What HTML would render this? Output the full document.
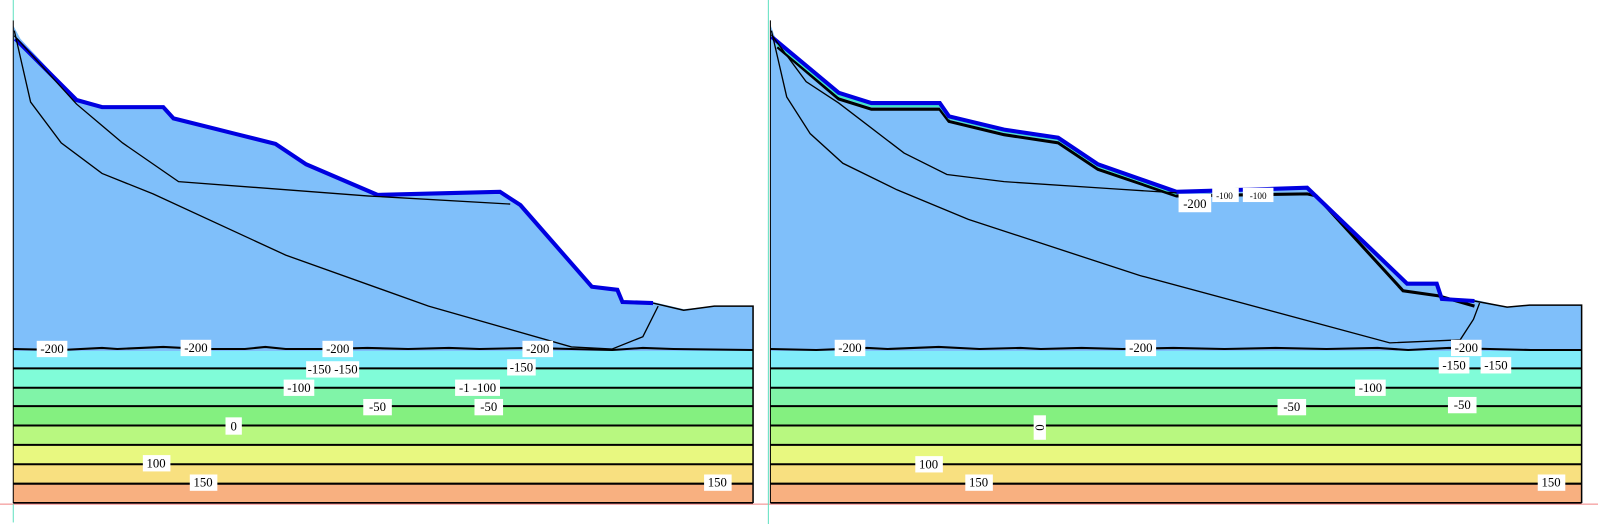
<!DOCTYPE html>
<html><head><meta charset="utf-8"><style>body{margin:0;background:#fff;overflow:hidden}svg{display:block}</style></head><body>
<svg width="1598" height="524" viewBox="0 0 1598 524" xmlns="http://www.w3.org/2000/svg" font-family="Liberation Serif, serif" font-size="12.5">
<g transform="scale(1.0204)">
<!-- LEFT PANEL -->
<g>
<rect x="13" y="342" width="725" height="19" fill="#80ecfa"/>
<rect x="13" y="361" width="725" height="19" fill="#80fcd8"/>
<rect x="13" y="380" width="725" height="18" fill="#80f4a8"/>
<rect x="13" y="398" width="725" height="19" fill="#84f080"/>
<rect x="13" y="417" width="725" height="19" fill="#b8f880"/>
<rect x="13" y="436" width="725" height="19" fill="#e8f880"/>
<rect x="13" y="455" width="725" height="19" fill="#f8e080"/>
<rect x="13" y="474" width="725" height="19" fill="#f8b080"/>
<polygon fill="#7fbffa" points="13,25 20,38 75,97 100,104 160,104 170,115 230,130 270,140 300,160 370,190 490,187 510,200 580,280 605,283 610,295 640,296 670,303 700,300 738,300 738,344 13,344"/>
<polyline fill="none" stroke="#0000e0" stroke-width="4" points="15,38 75,98 100,105 160,105 170,116 230,131 270,141 300,161 370,191 490,188 510,201 580,281 605,284 610,296 640,297"/>
<polyline fill="none" stroke="#000" stroke-width="1.5" points="640,297 670,304 700,300 738,300 738,493"/>
<polyline fill="none" stroke="#000" stroke-width="1.3" points="14,35 75,102 120,140 175,178 360,192 500,200"/>
<polyline fill="none" stroke="#000" stroke-width="1.3" points="14,30 30,100 60,140 100,170 150,190 280,250 420,300 560,340 600,342 630,330 645,300"/>
<polyline fill="none" stroke="#000" stroke-width="2" points="13,342 60,343 100,341 115,342 160,340 200,342 240,342 260,340 280,342 320,342 360,341 400,342 440,341 470,342 520,341 560,342 600,343 630,341 660,342 738,343"/>
<g stroke="#000" stroke-width="2"><line x1="13" y1="361" x2="738" y2="361"/><line x1="13" y1="380" x2="738" y2="380"/><line x1="13" y1="398" x2="738" y2="398"/><line x1="13" y1="417" x2="738" y2="417"/><line x1="13" y1="436" x2="738" y2="436"/><line x1="13" y1="455" x2="738" y2="455"/><line x1="13" y1="474" x2="738" y2="474"/><line x1="13" y1="493" x2="738" y2="493"/></g>
<line x1="13" y1="20" x2="13" y2="493" stroke="#000" stroke-width="1"/>
</g>
<!-- RIGHT PANEL -->
<g>
<rect x="755" y="342" width="795" height="19" fill="#80ecfa"/>
<rect x="755" y="361" width="795" height="19" fill="#80fcd8"/>
<rect x="755" y="380" width="795" height="18" fill="#80f4a8"/>
<rect x="755" y="398" width="795" height="19" fill="#84f080"/>
<rect x="755" y="417" width="795" height="19" fill="#b8f880"/>
<rect x="755" y="436" width="795" height="19" fill="#e8f880"/>
<rect x="755" y="455" width="795" height="19" fill="#f8e080"/>
<rect x="755" y="474" width="795" height="19" fill="#f8b080"/>
<polygon fill="#7fbffa" points="755,24 760,38 822,90 854,100 921,100 930,113 984,126 1037,134 1076,160 1153,188 1281,183 1379,277 1408,277 1413,292 1447,294 1477,301 1499,299 1550,299 1550,344 755,344"/>
<polyline fill="none" stroke="#000" stroke-width="3" points="762,46 822,97 854,107 921,107 930,119 984,132 1037,140 1076,166 1153,192 1281,190 1290,192 1375,285 1410,290 1445,300"/>
<polyline fill="none" stroke="#40e8c8" stroke-width="2" points="761,43 822,94 854,104 921,104 930,116 984,129 1037,137 1076,163 1153,190"/>
<polyline fill="none" stroke="#0000e0" stroke-width="4" points="756,36 822,91 854,101 921,101 930,114 984,127 1037,135 1076,161 1153,188 1281,184 1379,278 1408,278 1413,293 1445,295"/>
<polyline fill="none" stroke="#000" stroke-width="1.5" points="1445,295 1477,301 1499,299 1550,299 1550,493"/>
<polyline fill="none" stroke="#000" stroke-width="1.3" points="756,34 790,80 822,101 886,150 928,171 984,178 1090,185 1153,189"/>
<polyline fill="none" stroke="#000" stroke-width="1.3" points="756,30 771,95 794,131 826,160 879,186 949,215 1117,270 1362,336 1431,333 1444,313 1450,297"/>
<polyline fill="none" stroke="#000" stroke-width="2" points="755,342 800,343 850,341 870,342 920,340 960,342 1000,341 1020,342 1060,341 1100,342 1150,341 1200,342 1250,341 1300,342 1350,341 1380,343 1420,341 1460,342 1500,343 1550,343"/>
<g stroke="#000" stroke-width="2"><line x1="755" y1="361" x2="1550" y2="361"/><line x1="755" y1="380" x2="1550" y2="380"/><line x1="755" y1="398" x2="1550" y2="398"/><line x1="755" y1="417" x2="1550" y2="417"/><line x1="755" y1="436" x2="1550" y2="436"/><line x1="755" y1="455" x2="1550" y2="455"/><line x1="755" y1="474" x2="1550" y2="474"/><line x1="755" y1="493" x2="1550" y2="493"/></g>
<line x1="755" y1="20" x2="755" y2="493" stroke="#000" stroke-width="1"/>
</g>
<line x1="0" y1="494" x2="1598" y2="494" stroke="#f08080" stroke-width="1"/>
<line x1="13" y1="0" x2="13" y2="20" stroke="#60e0c0" stroke-width="1"/>
<line x1="753" y1="0" x2="753" y2="524" stroke="#60e0c0" stroke-width="1"/>
<line x1="13" y1="494" x2="13" y2="512" stroke="#60e0c0" stroke-width="1"/>
<!-- labels -->
<g fill="#fff">
<rect x="36" y="334" width="30" height="16"/><rect x="177" y="333" width="30" height="16"/><rect x="316" y="334" width="30" height="16"/><rect x="512" y="334" width="30" height="16"/>
<rect x="300" y="354" width="52" height="16"/><rect x="497" y="352" width="28" height="16"/>
<rect x="278" y="372" width="30" height="16"/><rect x="446" y="372" width="44" height="16"/>
<rect x="356" y="391" width="28" height="16"/><rect x="465" y="391" width="28" height="16"/>
<rect x="221" y="409" width="16" height="17"/>
<rect x="140" y="446" width="27" height="16"/><rect x="186" y="465" width="27" height="16"/><rect x="690" y="465" width="27" height="16"/>
<rect x="818" y="333" width="30" height="16"/><rect x="1103" y="333" width="30" height="16"/><rect x="1422" y="333" width="30" height="16"/>
<rect x="1410" y="350" width="30" height="16"/><rect x="1451" y="350" width="30" height="16"/>
<rect x="1328" y="372" width="30" height="16"/><rect x="1252" y="391" width="28" height="16"/><rect x="1419" y="389" width="28" height="16"/>
<rect x="1013" y="407" width="12" height="24"/>
<rect x="897" y="447" width="27" height="16"/><rect x="946" y="465" width="27" height="16"/><rect x="1507" y="465" width="27" height="16"/>
<rect x="1155" y="190" width="32" height="18"/><rect x="1188" y="184" width="26" height="14"/><rect x="1218" y="184" width="30" height="14"/>
</g>
<g fill="#000" text-anchor="middle">
<text x="51" y="346">-200</text><text x="192" y="345">-200</text><text x="331" y="346">-200</text><text x="527" y="346">-200</text>
<text x="326" y="366">-150 -150</text><text x="511" y="364">-150</text>
<text x="293" y="384">-100</text><text x="468" y="384">-1 -100</text>
<text x="370" y="403">-50</text><text x="479" y="403">-50</text>
<text x="229" y="422">0</text>
<text x="153" y="458">100</text><text x="199" y="477">150</text><text x="703" y="477">150</text>
<text x="833" y="345">-200</text><text x="1118" y="345">-200</text><text x="1437" y="345">-200</text>
<text x="1425" y="362">-150</text><text x="1466" y="362">-150</text>
<text x="1343" y="384">-100</text><text x="1266" y="403">-50</text><text x="1433" y="401">-50</text>
<text x="0" y="0" transform="translate(1023,419) rotate(-90)">0</text>
<text x="910" y="459">100</text><text x="959" y="477">150</text><text x="1520" y="477">150</text>
<text x="1171" y="204">-200</text>
<text x="1200" y="195" font-size="9">-100</text><text x="1233" y="195" font-size="9">-100</text>
</g>
</g>
</svg>
</body></html>
